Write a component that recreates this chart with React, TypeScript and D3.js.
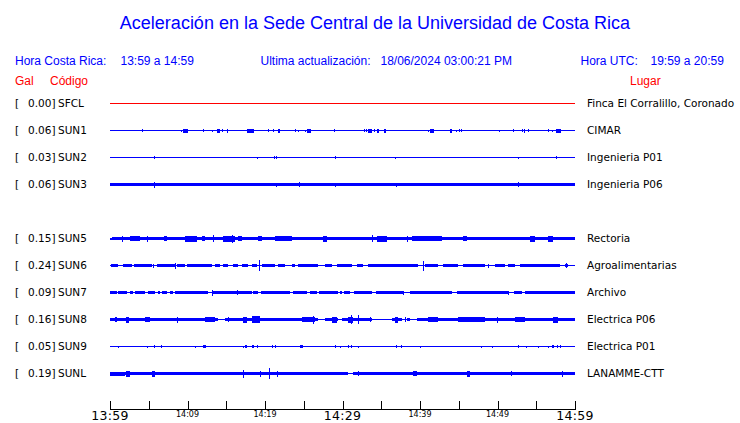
import * as d3 from 'd3';

// station rows (slot 4 is the empty SUN4 position)
const codes = ['SFCL', 'SUN1', 'SUN2', 'SUN3', 'SUN5', 'SUN6', 'SUN7', 'SUN8', 'SUN9', 'SUNL'];
const slots = [0, 1, 2, 3, 5, 6, 7, 8, 9, 10];
const galValues = [0.0, 0.06, 0.03, 0.06, 0.15, 0.24, 0.09, 0.16, 0.05, 0.19];
const places = [
    'Finca El Corralillo, Coronado',
    'CIMAR',
    'Ingenieria P01',
    'Ingenieria P06',
    'Rectoria',
    'Agroalimentarias',
    'Archivo',
    'Electrica P06',
    'Electrica P01',
    'LANAMME-CTT',
];

// trace envelopes: [startMinute, endMinute, halfAmplitude]
const sfclEvents: number[][] = [];
const sun1Events = [
    [4.17, 4.17, 1.5], [9.16, 9.16, 1], [9.46, 10.02, 2], [12.04, 12.04, 1.5], [13.2, 13.2, 1],
    [13.85, 14.19, 2], [14.41, 14.41, 1.5], [15.05, 15.05, 2], [17.63, 18.62, 2], [20.43, 20.43, 1.5],
    [20.99, 20.99, 1.5], [21.63, 21.9, 2], [23.91, 23.91, 1.5], [24.3, 24.3, 1], [25.2, 25.2, 1],
    [25.46, 25.9, 2], [28.86, 28.86, 1.5], [32.82, 32.82, 1.5], [33.0, 33.0, 1.5], [33.29, 33.76, 2],
    [34.1, 34.1, 1.5], [34.5, 34.7, 2], [35.35, 35.57, 2], [41.07, 41.07, 1], [41.33, 41.8, 2],
    [43.87, 44.09, 2], [44.65, 44.65, 1], [45.07, 45.07, 1.5], [45.33, 45.33, 1.5], [50.23, 50.23, 1],
    [52.04, 52.04, 1.5], [53.2, 53.2, 1.5], [53.46, 53.46, 2], [53.9, 53.9, 1.5], [56.56, 56.56, 1.5],
    [57.03, 57.03, 1], [57.55, 58.15, 2],
];
const sun2Events = [
    [5.72, 5.72, 1.5], [19.01, 19.01, 1], [21.2, 21.2, 1.5], [21.42, 21.42, 1.5],
    [29.03, 29.03, 1.5], [36.8, 36.8, 1], [52.7, 52.7, 1], [57.6, 57.6, 1.5],
];
const sun3Events = [
    [0, 60, 1.5], [5.72, 5.72, 3], [21.46, 21.46, 2], [24.43, 24.43, 2.5],
    [29.03, 29.03, 2], [36.94, 36.94, 2], [52.7, 52.7, 2.5],
];
const sun5Events = [
    [0, 0.2, 1], [0.2, 60, 1.8], [1.59, 1.59, 3], [2.58, 3.87, 2.5], [4.73, 4.73, 3], [7.01, 7.31, 2.5],
    [9.68, 11.18, 3], [11.83, 12.26, 2.5], [13.33, 13.33, 3.5], [14.62, 16.13, 3], [15.7, 15.7, 4],
    [16.47, 17.0, 2.5], [19.14, 19.57, 2.5], [21.29, 23.44, 2.5], [27.53, 27.96, 3], [33.76, 33.76, 3.5],
    [34.41, 35.7, 3], [38.28, 38.28, 3], [38.93, 42.8, 2.5], [45.59, 46.02, 2.5], [54.19, 54.84, 3],
    [56.56, 57.2, 3],
];
const sun6Events = [
    [0.13, 1.08, 1.5], [1.72, 2.8, 1.5], [3.14, 5.38, 1.5], [6.02, 8.39, 1.5], [8.6, 9.68, 1.5],
    [9.89, 13.12, 1.5], [13.55, 14.19, 1.5], [14.62, 15.27, 1.5], [15.91, 16.56, 1.5], [16.99, 17.85, 1.5],
    [18.28, 18.92, 1.5], [19.57, 21.29, 1.5], [21.72, 22.58, 1.5], [23.44, 23.87, 1.5], [24.3, 26.88, 1.5],
    [27.74, 28.6, 1.5], [29.25, 31.18, 1.5], [31.83, 32.69, 1.5], [33.33, 39.78, 1.5], [40.65, 42.37, 1.5],
    [43.01, 44.95, 1.5], [45.59, 48.39, 1.5], [49.68, 50.97, 1.5], [51.4, 52.26, 1.5], [52.9, 58.06, 1.5],
    [58.71, 59.14, 1.5],
    [5.51, 5.51, 2], [8.39, 8.39, 3], [19.27, 19.27, 5.5], [40.43, 40.43, 5], [48.82, 48.82, 2],
    [58.84, 58.84, 2.5],
];
const sun7Events = [
    [0, 0.86, 1.5], [1.08, 2.15, 1.5], [2.58, 3.01, 1.5], [3.23, 4.52, 1.5], [4.86, 5.81, 1.5],
    [6.24, 6.45, 1.5], [6.67, 7.31, 1.5], [7.74, 8.17, 1.5], [8.39, 12.69, 1.5], [13.33, 18.28, 1.5],
    [18.49, 19.14, 1.5], [19.48, 23.23, 1.5], [23.66, 25.38, 1.5], [25.81, 26.67, 1.5], [27.01, 29.46, 1.5],
    [29.68, 29.89, 1.5], [30.24, 30.97, 1.5], [31.53, 33.76, 1.5], [34.32, 37.85, 1.5], [38.71, 44.09, 1.5],
    [44.73, 51.4, 1.5], [52.17, 53.12, 1.5], [53.55, 60, 1.5],
    [13.12, 13.12, 3], [16.34, 16.34, 2.5], [37.85, 37.85, 2], [51.4, 51.4, 2],
];
const sun8Events = [
    [0, 13.98, 1.8], [14.84, 26.88, 1.8], [27.74, 29.46, 1.8], [29.98, 33.76, 1.8], [36.34, 37.63, 1.8],
    [38.28, 38.71, 1.8], [39.57, 60, 1.8],
    [0.65, 0.86, 2.5], [2.02, 2.45, 3], [4.52, 5.16, 2.5], [8.69, 8.69, 3], [12.26, 13.55, 2.5],
    [15.27, 15.27, 2.5], [17.2, 17.63, 3], [18.28, 19.35, 3.2], [24.73, 26.45, 2.5], [26.24, 26.24, 4],
    [28.6, 29.25, 3], [30.67, 31.4, 3], [31.1, 31.1, 4.5], [32.04, 32.04, 4.5], [33.55, 33.55, 2.5],
    [36.77, 37.2, 3], [38.06, 38.06, 2.5], [41.08, 42.37, 2.5], [44.95, 48.39, 2.5], [49.89, 49.89, 3],
    [52.26, 53.55, 2.5], [57.2, 57.85, 3],
];
const sun9Events = [
    [1.08, 1.08, 1], [4.82, 4.82, 1], [5.72, 5.72, 1.5], [6.54, 6.54, 1.5], [11.01, 11.01, 1],
    [12.04, 12.34, 1.5], [17.2, 17.2, 1], [17.42, 17.63, 1.5], [18.28, 18.62, 1.5], [19.01, 19.01, 1.5],
    [20.95, 21.08, 1.5], [21.29, 21.42, 1.5], [24.52, 24.95, 1.5], [29.03, 29.03, 1.5], [29.72, 29.72, 1],
    [30.75, 30.75, 1.5], [31.05, 31.05, 1.5], [32.04, 32.04, 1], [36.86, 36.86, 1.5], [37.51, 37.51, 1.5],
    [40.04, 40.04, 1], [47.83, 47.83, 1], [49.33, 49.33, 1], [52.69, 52.69, 1.5], [53.63, 53.63, 1],
    [55.18, 55.18, 1], [56.47, 56.47, 1], [56.99, 57.33, 1.5], [57.63, 57.63, 1.5], [58.06, 58.06, 1.5],
];
const sunlEvents = [
    [0, 30.75, 1.6], [31.3, 60, 1.6], [0, 1.94, 2], [2.02, 2.58, 3], [5.38, 5.81, 3], [17.12, 17.12, 4],
    [19.35, 19.35, 3], [20.56, 20.56, 5.5], [21.5, 21.72, 3], [32.04, 32.04, 2.5], [39.14, 39.57, 2.5],
    [46.02, 46.45, 3], [51.74, 51.74, 2.5], [58.37, 58.37, 3],
];
const traceEvents = [
    sfclEvents, sun1Events, sun2Events, sun3Events, sun5Events,
    sun6Events, sun7Events, sun8Events, sun9Events, sunlEvents,
];
const traceColors = ['#ff0000', '#0000ff', '#0000ff', '#0000ff', '#0000ff', '#0000ff', '#0000ff', '#0000ff', '#0000ff', '#0000ff'];

// time axis (minutes after 13:59)
const tickMinutes = [0, 5, 10, 15, 20, 25, 30, 35, 40, 45, 50, 55, 60];
const majorTicks = [0, 30, 60];
const majorLabels = ['13:59', '14:29', '14:59'];
const minorTicks = [10, 20, 40, 50];
const minorLabels = ['14:09', '14:19', '14:39', '14:49'];

const W = 740;
const H = 423;
const BLUE = '#0000ff';
const RED = '#ff0000';
const HEAD_FONT = '"Liberation Sans", Arial, sans-serif';
const ROW_FONT = '"DejaVu Sans", sans-serif';

export default function App() {
    const x = d3.scaleLinear().domain([0, 60]).range([110, 575]);
    const y = d3.scaleLinear().domain([0, 10]).range([103.5, 373.5]);
    const axisY = 409.5;

    return (
        <svg
            width={W}
            height={H}
            style={{ position: 'absolute', left: 0, top: 0, background: '#fff' }}
        >
            <text x={375} y={29} textAnchor="middle" fill={BLUE} fontFamily={HEAD_FONT} fontSize={18}>
                Aceleración en la Sede Central de la Universidad de Costa Rica
            </text>

            <g fontFamily={HEAD_FONT} fontSize={12} fill={BLUE}>
                <text x={15} y={65}>Hora Costa Rica:</text>
                <text x={120.5} y={65}>13:59 a 14:59</text>
                <text x={260.5} y={65}>Ultima actualización:</text>
                <text x={380.5} y={65}>18/06/2024 03:00:21 PM</text>
                <text x={580.5} y={65}>Hora UTC:</text>
                <text x={650.5} y={65}>19:59 a 20:59</text>
            </g>
            <g fontFamily={HEAD_FONT} fontSize={12} fill={RED}>
                <text x={15} y={85}>Gal</text>
                <text x={50} y={85}>Código</text>
                <text x={630} y={85}>Lugar</text>
            </g>

            {codes.map((code, i) => {
                const cy = y(slots[i]);
                return (
                    <g key={code}>
                        <g fontFamily={ROW_FONT} fontSize={10.5} fill="#000">
                            <text x={15} y={cy} dy="0.36em">[</text>
                            <text x={55.5} y={cy} dy="0.36em" textAnchor="end">{galValues[i].toFixed(2)}]</text>
                            <text x={58} y={cy} dy="0.36em">{code}</text>
                            <text x={587} y={cy} dy="0.36em">{places[i]}</text>
                        </g>
                        <g fill={traceColors[i]} shapeRendering="crispEdges">
                            <line x1={x(0)} x2={x(60)} y1={cy} y2={cy} stroke={traceColors[i]} strokeWidth={1} />
                            {traceEvents[i].map(([s, e, a], k) => (
                                <rect
                                    key={k}
                                    x={x(s)}
                                    width={Math.max(1, x(e) - x(s))}
                                    y={cy - a}
                                    height={2 * a}
                                />
                            ))}
                        </g>
                    </g>
                );
            })}

            <g stroke="#000" strokeWidth={1} shapeRendering="crispEdges">
                <line x1={x(0)} x2={x(60) + 0.5} y1={axisY} y2={axisY} />
                {tickMinutes.map((m) => (
                    <line key={m} x1={Math.round(x(m)) + 0.5} x2={Math.round(x(m)) + 0.5} y1={axisY - 8.5} y2={axisY} />
                ))}
            </g>
            <g fontFamily={ROW_FONT} fill="#000" textAnchor="middle">
                {majorTicks.map((m, i) => (
                    <text key={m} x={x(m)} y={420} fontSize={12.5} letterSpacing={0.3}>{majorLabels[i]}</text>
                ))}
                {minorTicks.map((m, i) => (
                    <text key={m} x={x(m)} y={416.5} fontSize={8}>{minorLabels[i]}</text>
                ))}
            </g>
        </svg>
    );
}
